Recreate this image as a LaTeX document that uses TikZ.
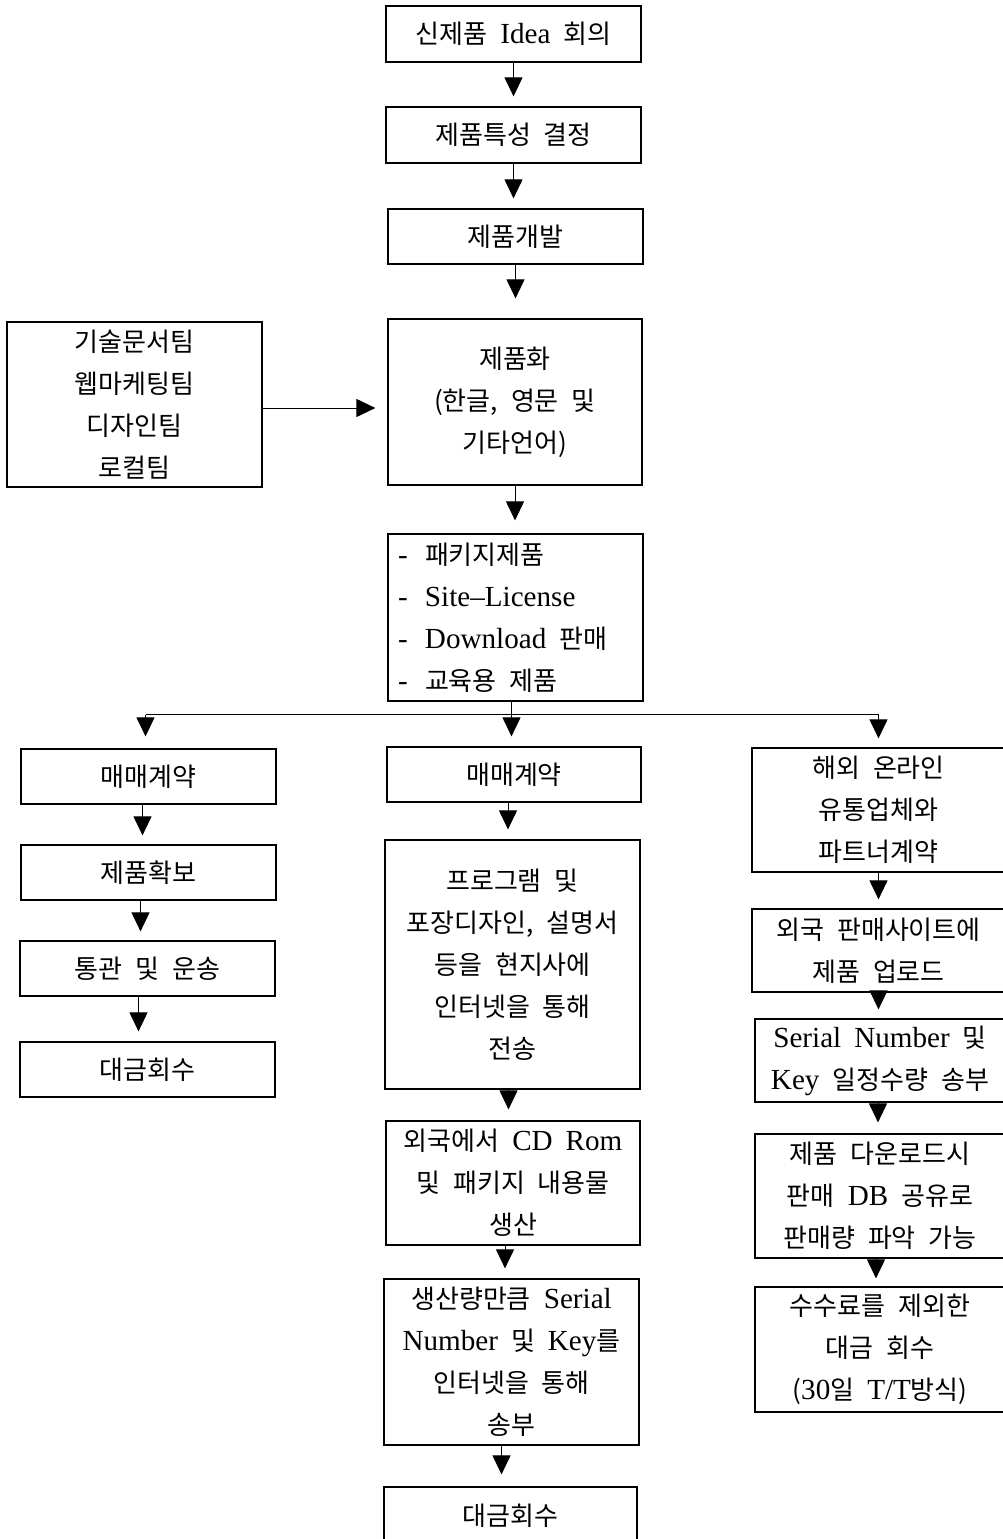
\documentclass[tikz,border=0pt]{standalone}
\usepackage{fontspec}
\setmainfont{Noto Sans CJK KR}
\newfontfamily\enfont[Scale=1.12]{Liberation Serif}
\newcommand\en[1]{{\enfont #1}}
\newcommand\lstitem{\makebox[27pt][l]{\en{-}}}
\usetikzlibrary{arrows.meta}
\begin{document}
\begin{tikzpicture}[x=1pt,y=-1pt,
  box/.style={draw, line width=1.2pt, inner sep=0pt, align=center,
    font=\fontsize{26}{42}\selectfont,
    execute at begin node={\spaceskip=13pt\relax}},
  arr/.style={line width=1pt, -{Triangle[width=18pt,length=19pt]}},
  link/.style={line width=1pt}]
\useasboundingbox (0,0) rectangle (1003,1539);
\clip (0,0) rectangle (1003,1539);

% main trunk
\node[box, minimum width=255pt, minimum height=56pt] (b1) at (513.5,34) {신제품 \en{Idea} 회의};
\node[box, minimum width=255pt, minimum height=56pt] (b2) at (513.5,135) {제품특성 결정};
\node[box, minimum width=255pt, minimum height=55pt] (b3) at (515.5,236.5) {제품개발};
\node[box, minimum width=254pt, minimum height=166pt] (b4) at (515,402) {제품화\\(한글, 영문 및\\기타언어)};
\node[box, minimum width=255pt, minimum height=165pt] (side) at (134.5,404.5) {기술문서팀\\웹마케팅팀\\디자인팀\\로컬팀};
\node[box, minimum width=255pt, minimum height=167pt, text width=235pt, align=left, inner xsep=10pt] (b5) at (515.5,617.5)
  {\lstitem 패키지제품\\\lstitem \en{Site–License}\\\lstitem \en{Download} 판매\\\lstitem 교육용 제품};

% left branch
\node[box, minimum width=255pt, minimum height=55pt] (L1) at (148.5,776.5) {매매계약};
\node[box, minimum width=255pt, minimum height=55pt] (L2) at (148.5,872.5) {제품확보};
\node[box, minimum width=255pt, minimum height=55pt] (L3) at (147.5,968.5) {통관 및 운송};
\node[box, minimum width=255pt, minimum height=55pt] (L4) at (147.5,1069.5) {대금회수};

% centre branch
\node[box, minimum width=254pt, minimum height=55pt] (C1) at (514,774.5) {매매계약};
\node[box, minimum width=255pt, minimum height=249pt] (C2) at (512.5,964.5) {프로그램 및\\포장디자인, 설명서\\등을 현지사에\\인터넷을 통해\\전송};
\node[box, minimum width=254pt, minimum height=124pt] (C3) at (513,1183) {외국에서 \en{CD Rom}\\및 패키지 내용물\\생산};
\node[box, minimum width=255pt, minimum height=166pt] (C4) at (511.5,1362) {생산량만큼 \en{Serial}\\\en{Number} 및 \en{Key}를\\인터넷을 통해\\송부};
\node[box, minimum width=253pt, minimum height=58pt] (C5) at (510.5,1516) {대금회수};

% right branch
\node[box, minimum width=253pt, minimum height=124pt] (R1) at (878.5,810) {해외 온라인\\유통업체와\\파트너계약};
\node[box, minimum width=253pt, minimum height=83pt] (R2) at (878.5,950.5) {외국 판매사이트에\\제품 업로드};
\node[box, minimum width=250pt, minimum height=83pt] (R3) at (880,1060.5) {\en{Serial Number} 및\\\en{Key} 일정수량 송부};
\node[box, minimum width=250pt, minimum height=124pt] (R4) at (880,1196) {제품 다운로드시\\판매 \en{DB} 공유로\\판매량 파악 가능};
\node[box, minimum width=250pt, minimum height=125pt] (R5) at (880,1349.5) {수수료를 제외한\\대금 회수\\(\en{30}일 \en{T/T}방식)};

% trunk connectors
\draw[arr, shorten >=10pt] (b1.south) -- (b1.south |- b2.north);
\draw[arr, shorten >=10pt] (b2.south) -- (b2.south |- b3.north);
\draw[arr, shorten >=20pt] (b3.south) -- (b3.south |- b4.north);
\draw[arr, shorten >=13pt] (b4.south) -- (b4.south |- b5.north);
\draw[arr, shorten >=12pt] ([yshift=-3.5pt]side.east) -- ([yshift=-3.5pt]side.east -| b4.west);

% fork into three branches
\coordinate (fork) at ([xshift=-4pt,yshift=-13pt]b5.south);
\coordinate (forkL) at ([xshift=-3pt]fork -| L1.north);
\coordinate (forkR) at (fork -| R1.north);
\draw[link] ([xshift=-4pt]b5.south) -- (fork);
\draw[link] (forkL) -- (forkR);
\draw[arr, shorten >=12pt] (forkL) -- (forkL |- L1.north);
\draw[arr, shorten >=10pt] (fork) -- (fork |- C1.north);
\draw[arr, shorten >=9pt] (forkR) -- (forkR |- R1.north);

% left branch connectors
\draw[arr, shorten >=9pt] ([xshift=-6pt]L1.south) -- ([xshift=-6pt]L1.south |- L2.north);
\draw[arr, shorten >=9pt] ([xshift=-8pt]L2.south) -- ([xshift=-8pt]L2.south |- L3.north);
\draw[arr, shorten >=10pt] ([xshift=-9pt]L3.south) -- ([xshift=-9pt]L3.south |- L4.north);

% centre branch connectors
\draw[arr, shorten >=10pt] ([xshift=-6pt]C1.south) -- ([xshift=-6pt]C1.south |- C2.north);
\draw[arr, shorten >=11pt] ([xshift=-4pt]C2.south) -- ([xshift=-4pt]C2.south |- C3.north);
\draw[arr, shorten >=10pt] ([xshift=-8pt]C3.south) -- ([xshift=-8pt]C3.south |- C4.north);
\draw[arr, shorten >=12pt] ([xshift=-10pt]C4.south) -- ([xshift=-10pt]C4.south |- C5.north);

% right branch connectors
\draw[arr, shorten >=9pt] (R1.south) -- (R1.south |- R2.north);
\draw[arr, shorten >=9pt] (R2.south) -- (R2.south |- R3.north);
\draw[arr, shorten >=11pt] ([xshift=-2pt]R3.south) -- ([xshift=-2pt]R3.south |- R4.north);
\draw[arr, shorten >=8pt] ([xshift=-4pt]R4.south) -- ([xshift=-4pt]R4.south |- R5.north);
\end{tikzpicture}
\end{document}
